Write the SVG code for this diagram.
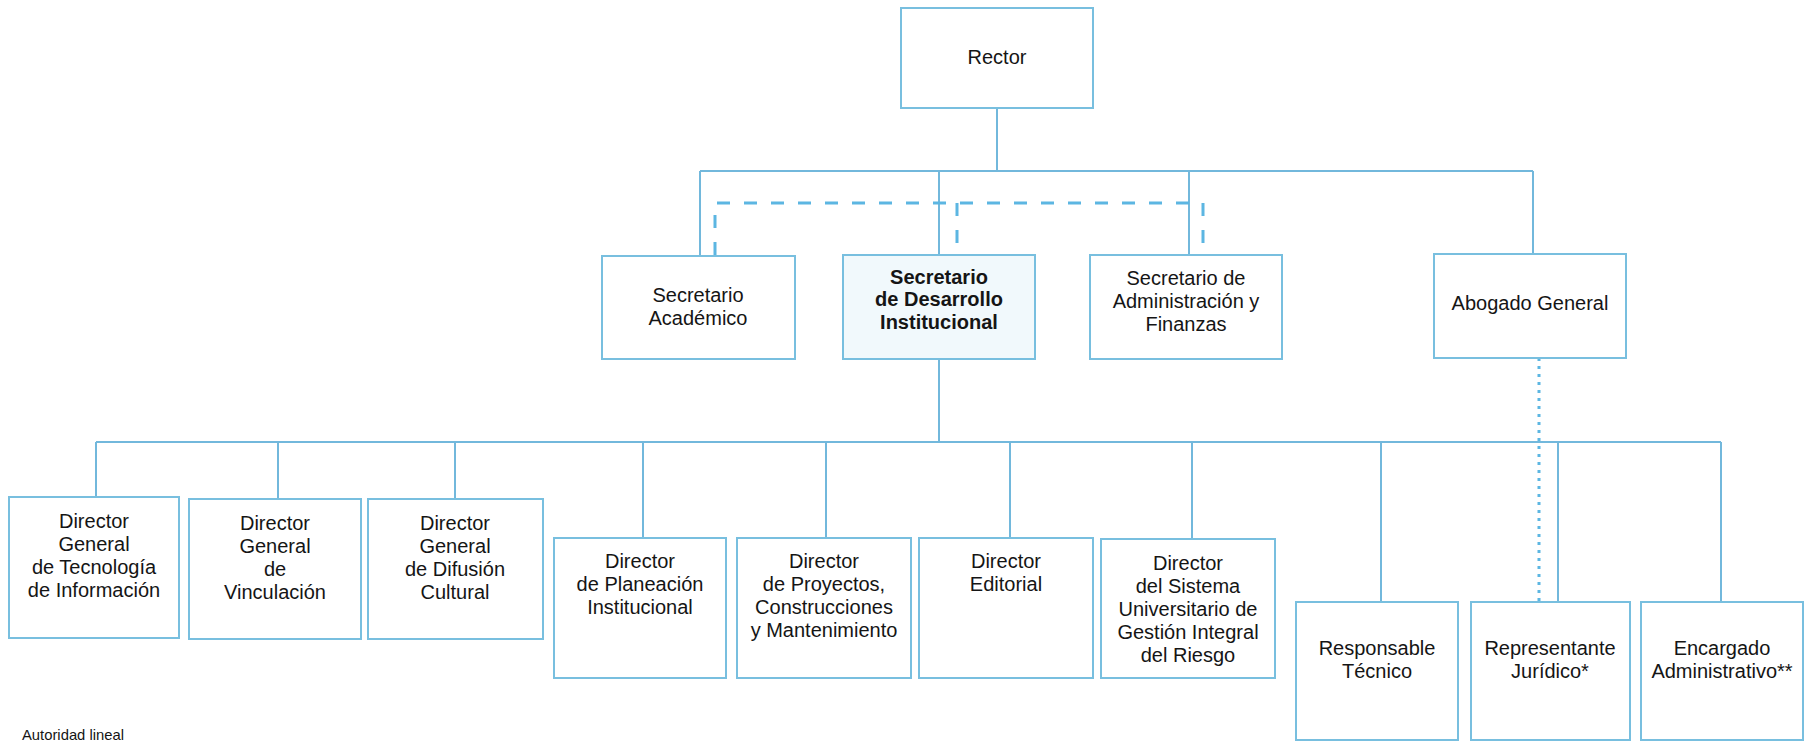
<svg xmlns="http://www.w3.org/2000/svg" width="1816" height="742" viewBox="0 0 1816 742">
<style>
.box{fill:#ffffff;stroke:#78bfdf;stroke-width:2}
.hl{fill:#f1f9fc}
.ln{fill:none;stroke:#72b8dc;stroke-width:2}
.dash{fill:none;stroke:#5cb6e2;stroke-width:3;stroke-dasharray:13 14}
.dot{fill:none;stroke:#5cb6e2;stroke-width:3;stroke-dasharray:3 5}
text{font-family:"Liberation Sans",Arial,sans-serif;font-size:20px;fill:#151515;text-anchor:middle}
.b{font-weight:bold}
.small{font-size:14.8px;text-anchor:start}
</style>
<rect width="1816" height="742" fill="#ffffff"/>
<g id="connectors">
<path class="ln" d="M997 108V171M700 171H1533M700 171V256M939 171V255M1189 171V255M1533 171V254"/>
<path class="dash" d="M715 255V203H1203V255"/>
<path class="dash" d="M957 203V255"/>
<path class="ln" d="M939 359V442M96 442H1721M96 442V497M278 442V499M455 442V499M643 442V538M826 442V538M1010 442V538M1192 442V539M1381 442V602M1558 442V602M1721 442V602"/>
<path class="dot" d="M1539 358V602"/>
</g>
<g id="rector"><rect class="box" x="901" y="8" width="192" height="100"/><text x="997" y="64">Rector</text></g>
<g id="sec-academico"><rect class="box" x="602" y="256" width="193" height="103"/><text x="698" y="302">Secretario</text><text x="698" y="325">Académico</text></g>
<g id="sec-desarrollo"><rect class="box hl" x="843" y="255" width="192" height="104"/><text class="b" x="939" y="284">Secretario</text><text class="b" x="939" y="306">de Desarrollo</text><text class="b" x="939" y="329">Institucional</text></g>
<g id="sec-administracion"><rect class="box" x="1090" y="255" width="192" height="104"/><text x="1186" y="285">Secretario de</text><text x="1186" y="308">Administración y</text><text x="1186" y="331">Finanzas</text></g>
<g id="abogado"><rect class="box" x="1434" y="254" width="192" height="104"/><text x="1530" y="310">Abogado General</text></g>
<g id="dir-tecnologia"><rect class="box" x="9" y="497" width="170" height="141"/><text x="94" y="528">Director</text><text x="94" y="551">General</text><text x="94" y="574">de Tecnología</text><text x="94" y="597">de Información</text></g>
<g id="dir-vinculacion"><rect class="box" x="189" y="499" width="172" height="140"/><text x="275" y="530">Director</text><text x="275" y="553">General</text><text x="275" y="576">de</text><text x="275" y="599">Vinculación</text></g>
<g id="dir-difusion"><rect class="box" x="368" y="499" width="175" height="140"/><text x="455" y="530">Director</text><text x="455" y="553">General</text><text x="455" y="576">de Difusión</text><text x="455" y="599">Cultural</text></g>
<g id="dir-planeacion"><rect class="box" x="554" y="538" width="172" height="140"/><text x="640" y="568">Director</text><text x="640" y="591">de Planeación</text><text x="640" y="614">Institucional</text></g>
<g id="dir-proyectos"><rect class="box" x="737" y="538" width="174" height="140"/><text x="824" y="568">Director</text><text x="824" y="591">de Proyectos,</text><text x="824" y="614">Construcciones</text><text x="824" y="637">y Mantenimiento</text></g>
<g id="dir-editorial"><rect class="box" x="919" y="538" width="174" height="140"/><text x="1006" y="568">Director</text><text x="1006" y="591">Editorial</text></g>
<g id="dir-sistema"><rect class="box" x="1101" y="539" width="174" height="139"/><text x="1188" y="570">Director</text><text x="1188" y="593">del Sistema</text><text x="1188" y="616">Universitario de</text><text x="1188" y="639">Gestión Integral</text><text x="1188" y="662">del Riesgo</text></g>
<g id="responsable"><rect class="box" x="1296" y="602" width="162" height="138"/><text x="1377" y="655">Responsable</text><text x="1377" y="678">Técnico</text></g>
<g id="representante"><rect class="box" x="1471" y="602" width="159" height="138"/><text x="1550" y="655">Representante</text><text x="1550" y="678">Jurídico*</text></g>
<g id="encargado"><rect class="box" x="1641" y="602" width="162" height="138"/><text x="1722" y="655">Encargado</text><text x="1722" y="678">Administrativo**</text></g>
<text class="small" x="22" y="740">Autoridad lineal</text>
</svg>
